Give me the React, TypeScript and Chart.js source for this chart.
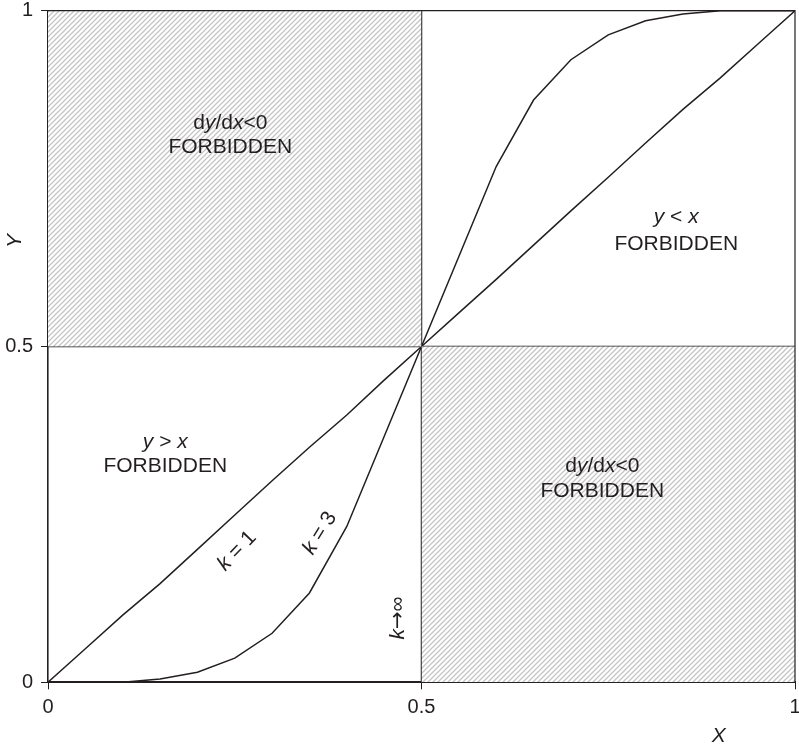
import React, { useEffect, useRef } from "react";
import { Chart, registerables } from "chart.js";

Chart.register(...registerables);

// Sample positions along X (step 0.05)
const xValues = [0, 0.05, 0.1, 0.15, 0.2, 0.25, 0.3, 0.35, 0.4, 0.45, 0.5, 0.55, 0.6, 0.65, 0.7, 0.75, 0.8, 0.85, 0.9, 0.95, 1];
// k = 1 curve
const k1Values = [0, 0.05, 0.1, 0.147, 0.198, 0.249, 0.3, 0.35, 0.398, 0.45, 0.5, 0.55, 0.6, 0.651, 0.702, 0.752, 0.803, 0.853, 0.9, 0.95, 1];
// k = 3 curve
const k3Values = [0, 0, 0, 0.005, 0.015, 0.036, 0.073, 0.133, 0.232, 0.366, 0.5, 0.634, 0.768, 0.867, 0.927, 0.964, 0.985, 0.995, 1, 1, 1];

const tickValues = [0, 0.5, 1];
const tickLabels = ["0", "0.5", "1"];

const INK = "#231f20";
const FONT = '"Liberation Sans", Arial, sans-serif';
const SYMBOL_FONT = '"DejaVu Sans", sans-serif';

// [text, italic, use symbol font]
type Seg = [string, boolean, boolean?];

function drawRich(ctx: CanvasRenderingContext2D, segs: Seg[], x: number, y: number, size: number, angle = 0) {
  ctx.save();
  ctx.translate(x, y);
  ctx.rotate(angle);
  ctx.fillStyle = INK;
  ctx.textBaseline = "middle";
  ctx.textAlign = "left";
  const fontOf = (it: boolean, sym?: boolean) => `${it ? "italic " : ""}${size}px ${sym ? SYMBOL_FONT : FONT}`;
  let total = 0;
  const widths = segs.map(([t, it, sym]) => {
    ctx.font = fontOf(it, sym);
    const w = ctx.measureText(t).width;
    total += w;
    return w;
  });
  let cx = -total / 2;
  segs.forEach(([t, it, sym], i) => {
    ctx.font = fontOf(it, sym);
    ctx.fillText(t, cx, 0);
    cx += widths[i];
  });
  ctx.restore();
}

function makeHatch(): CanvasPattern | string {
  const p = 5;
  const c = document.createElement("canvas");
  c.width = p;
  c.height = p;
  const g = c.getContext("2d");
  if (!g) return "#e6e6e6";
  g.fillStyle = "#ffffff";
  g.fillRect(0, 0, p, p);
  g.strokeStyle = "#c4c4c4";
  g.lineWidth = 1.25;
  g.beginPath();
  g.moveTo(-1, p + 1);
  g.lineTo(p + 1, -1);
  g.moveTo(-1, 1);
  g.lineTo(1, -1);
  g.moveTo(p - 1, p + 1);
  g.lineTo(p + 1, p - 1);
  g.stroke();
  const pat = g.createPattern(c, "repeat");
  return pat || "#e6e6e6";
}

const labelsPlugin = {
  id: "regionLabels",
  afterDraw(chart: any) {
    const { ctx, chartArea, scales } = chart;
    const xs = scales.x;
    const ys = scales.y;
    const px = (v: number) => xs.getPixelForValue(v);
    const py = (v: number) => ys.getPixelForValue(v);

    // top and right frame
    ctx.save();
    ctx.strokeStyle = INK;
    ctx.lineWidth = 1.2;
    ctx.beginPath();
    ctx.moveTo(chartArea.left, chartArea.top);
    ctx.lineTo(chartArea.right, chartArea.top);
    ctx.lineTo(chartArea.right, chartArea.bottom);
    ctx.stroke();
    ctx.restore();

    const s = 21;
    drawRich(ctx, [["d", false], ["y", true], ["/d", false], ["x", true], ["<0", false]], px(0.244), py(0.833), s);
    drawRich(ctx, [["FORBIDDEN", false]], px(0.244), py(0.797), s);

    drawRich(ctx, [["d", false], ["y", true], ["/d", false], ["x", true], ["<0", false]], px(0.742), py(0.322), s);
    drawRich(ctx, [["FORBIDDEN", false]], px(0.742), py(0.285), s);

    drawRich(ctx, [["y", true], [" > ", false], ["x", true]], px(0.157), py(0.357), s);
    drawRich(ctx, [["FORBIDDEN", false]], px(0.157), py(0.322), s);

    drawRich(ctx, [["y", true], [" < ", false], ["x", true]], px(0.841), py(0.693), s);
    drawRich(ctx, [["FORBIDDEN", false]], px(0.841), py(0.653), s);

    drawRich(ctx, [["k", true], [" = 1", false]], px(0.253), py(0.1955), s, (-46 * Math.PI) / 180);
    drawRich(ctx, [["k", true], [" = 3", false]], px(0.364), py(0.222), s, (-58 * Math.PI) / 180);
    drawRich(ctx, [["k", true], ["→", false, true], ["∞", false]], px(0.469), py(0.0957), s, -Math.PI / 2);

    // axis titles
    drawRich(ctx, [["X", true]], px(0.898), chartArea.bottom + 54, s);
    drawRich(ctx, [["Y", true]], chartArea.left - 33, py(0.657), s, -Math.PI / 2);
  },
};

export default function App() {
  const ref = useRef<HTMLCanvasElement | null>(null);

  useEffect(() => {
    if (!ref.current) return;
    const hatch = makeHatch();
    const pts = (ys: number[]) => xValues.map((x, i) => ({ x, y: ys[i] }));
    const lineStyle = {
      borderColor: INK,
      borderWidth: 1.5,
      pointRadius: 0,
      fill: false,
      tension: 0,
    };
    const chart = new Chart(ref.current, {
      type: "line",
      data: {
        datasets: [
          {
            data: [
              { x: 0, y: 1 },
              { x: 0.5, y: 1 },
            ],
            fill: { value: 0.5 },
            backgroundColor: hatch as any,
            borderWidth: 0,
            pointRadius: 0,
          },
          {
            data: [
              { x: 0.5, y: 0.5 },
              { x: 1, y: 0.5 },
            ],
            fill: { value: 0 },
            backgroundColor: hatch as any,
            borderWidth: 0,
            pointRadius: 0,
          },
          {
            data: [
              { x: 0, y: 0.5 },
              { x: 1, y: 0.5 },
            ],
            ...lineStyle,
          },
          {
            data: [
              { x: 0.5, y: 0 },
              { x: 0.5, y: 1 },
            ],
            ...lineStyle,
          },
          { data: pts(k1Values), ...lineStyle },
          { data: pts(k3Values), ...lineStyle },
        ] as any,
      },
      options: {
        animation: false,
        responsive: false,
        events: [],
        layout: { padding: { left: 0, right: 4, top: 10.7, bottom: 0.7 } },
        plugins: { legend: { display: false }, tooltip: { enabled: false } },
        scales: {
          x: {
            type: "linear",
            min: 0,
            max: 1,
            z: 1,
            afterBuildTicks: (scale: any) => {
              scale.ticks = tickValues.map((v) => ({ value: v }));
            },
            afterFit: (scale: any) => {
              scale.height = 66;
              scale.paddingLeft = 0;
              scale.paddingRight = 0;
            },
            ticks: {
              color: INK,
              font: { family: FONT, size: 20 },
              padding: 6,
              maxRotation: 0,
              callback: (v: any) => tickLabels[tickValues.indexOf(Number(v))] ?? "",
            },
            grid: { drawOnChartArea: false, drawTicks: true, tickLength: 7, color: INK, lineWidth: 1 },
            border: { display: true, color: INK, width: 2 },
          },
          y: {
            type: "linear",
            min: 0,
            max: 1,
            z: 1,
            afterBuildTicks: (scale: any) => {
              scale.ticks = tickValues.map((v) => ({ value: v }));
            },
            afterFit: (scale: any) => {
              scale.width = 48;
              scale.paddingTop = 0;
              scale.paddingBottom = 0;
            },
            ticks: {
              color: INK,
              font: { family: FONT, size: 20 },
              padding: 8,
              callback: (v: any) => tickLabels[tickValues.indexOf(Number(v))] ?? "",
            },
            grid: { drawOnChartArea: false, drawTicks: true, tickLength: 7, color: INK, lineWidth: 1 },
            border: { display: true, color: INK, width: 1.6 },
          },
        },
      } as any,
      plugins: [labelsPlugin],
    });
    return () => chart.destroy();
  }, []);

  return (
    <div style={{ position: "absolute", left: 0, top: 0, width: 799, height: 749, background: "#fff" }}>
      <canvas ref={ref} width={799} height={749} style={{ width: 799, height: 749, display: "block" }} />
    </div>
  );
}
